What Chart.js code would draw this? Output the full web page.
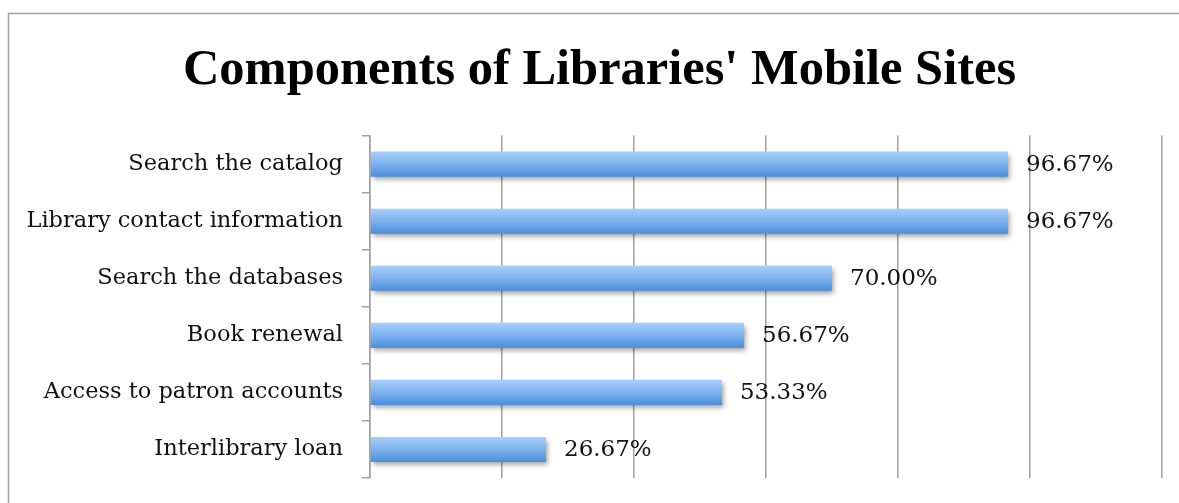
<!DOCTYPE html>
<html>
<head>
<meta charset="utf-8">
<script src="https://cdn.jsdelivr.net/npm/chart.js@4.4.1/dist/chart.umd.min.js"></script>
<style>
  html, body { margin: 0; padding: 0; background: #ffffff; }
  #wrap { position: relative; width: 1179px; height: 503px; }
</style>
</head>
<body>
<div id="wrap"><canvas id="c" width="1179" height="503"></canvas></div>
<script>
const titleText = "Components of Libraries' Mobile Sites";
const categories = [
  "Search the catalog",
  "Library contact information",
  "Search the databases",
  "Book renewal",
  "Access to patron accounts",
  "Interlibrary loan"
];
const percentValues = [96.67, 96.67, 70.00, 56.67, 53.33, 26.67];
const xTickValues = [0, 20, 40, 60, 80, 100, 120];

const TITLE_FONT = "'Liberation Serif', 'DejaVu Serif', serif";
const LABEL_FONT = "'DejaVu Serif', 'Liberation Serif', serif";
const GRID = '#a0a0a0';

const framePlugin = {
  id: 'frame',
  beforeDraw(chart) {
    const ctx = chart.ctx;
    ctx.save();
    ctx.fillStyle = '#ffffff';
    ctx.fillRect(0, 0, chart.width, chart.height);
    ctx.strokeStyle = GRID;
    ctx.lineWidth = 1.5;
    ctx.beginPath();
    ctx.moveTo(8.5, chart.height + 2);
    ctx.lineTo(8.5, 13.5);
    ctx.lineTo(chart.width + 2, 13.5);
    ctx.stroke();
    ctx.restore();
  }
};

const shadowPlugin = {
  id: 'barShadow',
  beforeDatasetsDraw(chart) {
    const ctx = chart.ctx;
    ctx.save();
    ctx.shadowColor = 'rgba(0,0,0,0.38)';
    ctx.shadowBlur = 5;
    ctx.shadowOffsetX = 2;
    ctx.shadowOffsetY = 3;
  },
  afterDatasetsDraw(chart) {
    chart.ctx.restore();
    const ctx = chart.ctx;
    const meta = chart.getDatasetMeta(0);
    ctx.save();
    ctx.font = "23px " + LABEL_FONT;
    ctx.fillStyle = '#111111';
    ctx.textAlign = 'left';
    ctx.textBaseline = 'middle';
    meta.data.forEach((bar, i) => {
      const v = chart.data.datasets[0].data[i];
      ctx.fillText(v.toFixed(2) + '%', bar.x + 18, bar.y + 1);
    });
    ctx.restore();
  }
};

const barPct = 0.44;

new Chart(document.getElementById('c'), {
  type: 'bar',
  data: {
    labels: categories,
    datasets: [{
      data: percentValues,
      categoryPercentage: 1.0,
      barPercentage: barPct,
      borderWidth: 0,
      backgroundColor: (context) => {
        const chart = context.chart;
        const ca = chart.chartArea;
        if (!ca || !chart.scales.y) return '#74a8ea';
        const y = chart.scales.y.getPixelForValue(context.dataIndex);
        const slot = (ca.bottom - ca.top) / categories.length;
        const h = slot * barPct;
        const g = chart.ctx.createLinearGradient(0, y - h / 2, 0, y + h / 2);
        g.addColorStop(0, '#a9cefa');
        g.addColorStop(0.5, '#7db2ee');
        g.addColorStop(1, '#4a8edb');
        return g;
      }
    }]
  },
  options: {
    indexAxis: 'y',
    responsive: false,
    animation: false,
    layout: { padding: { left: 20, right: 0, top: 0, bottom: 25 } },
    plugins: {
      legend: { display: false },
      tooltip: { enabled: false },
      title: {
        display: true,
        text: titleText,
        color: '#000000',
        font: { family: TITLE_FONT, size: 50.5, weight: 'bold' },
        padding: { top: 41, bottom: 34 }
      }
    },
    scales: {
      x: {
        min: 0,
        max: 120,
        afterBuildTicks(scale) { scale.ticks = xTickValues.map(v => ({ value: v })); },
        afterFit(scale) { scale.height = 0; scale.paddingLeft = 0; scale.paddingRight = 0; },
        ticks: { display: false },
        grid: { color: GRID, lineWidth: 1.5, drawTicks: false },
        border: { display: false }
      },
      y: {
        afterFit(scale) { scale.width = 350; scale.paddingTop = 0; scale.paddingBottom = 0; },
        ticks: {
          color: '#111111',
          font: { family: LABEL_FONT, size: 22.5 },
          padding: 19
        },
        grid: { drawOnChartArea: false, drawTicks: true, tickLength: 8, color: GRID, lineWidth: 1.5 },
        border: { display: true, color: GRID, width: 1.5 }
      },
      rightSpacer: {
        type: 'linear',
        axis: 'y',
        position: 'right',
        display: true,
        afterFit(scale) { scale.width = 17; scale.paddingTop = 0; scale.paddingBottom = 0; },
        ticks: { display: false },
        grid: { display: false },
        border: { display: false }
      }
    }
  },
  plugins: [framePlugin, shadowPlugin]
});
</script>
</body>
</html>
